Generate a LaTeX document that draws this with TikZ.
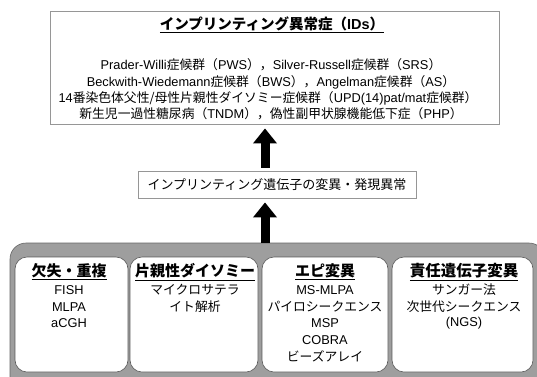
\documentclass[tikz,border=0pt]{standalone}
\usepackage{fontspec}
\setmainfont{Noto Sans CJK JP}
\newfontfamily\latf{Liberation Sans}
\newcommand\la[1]{{\latf #1}}
\usetikzlibrary{arrows.meta}
\definecolor{bggray}{RGB}{158,158,158}
\definecolor{edgegray}{RGB}{150,150,150}
\begin{document}
\begin{tikzpicture}[x=1pt,y=-1pt,
  txt/.style={inner sep=0pt, font=\fontsize{12.8}{15}\selectfont},
  head/.style={inner sep=0pt, font=\fontsize{15}{16}\selectfont\bfseries},
  plainbox/.style={draw=edgegray, line width=0.8pt, fill=white, inner sep=0pt},
  methodbox/.style={draw=gray!70!black, line width=0.6pt, fill=white, rounded corners=12pt, inner sep=0pt},
  bigarrow/.style={line width=9pt, -{Triangle[width=23pt,length=15pt]}, black}]
\useasboundingbox (0,0) rectangle (537,376);
% top box
\node[plainbox, minimum width=449pt, minimum height=113pt] (ids) at (274.5,67.5) {};
\node[head, font=\fontsize{14.5}{16}\selectfont\bfseries] (idsT) at (272,25) {\underline{インプリンティング異常症（\la{\bfseries IDs}）}};
\node[txt] (l1) at (271,65) {\la{Prader-Willi}症候群（\la{PWS}），\la{Silver-Russell}症候群（\la{SRS}）};
\node[txt] (l2) at (271,82) {\la{Beckwith-Wiedemann}症候群（\la{BWS}），\la{Angelman}症候群（\la{AS}）};
\node[txt] (l3) at (268,98) {\la{14}番染色体父性/母性片親性ダイソミー症候群（\la{UPD(14)pat/mat}症候群）};
\node[txt] (l4) at (271,114) {新生児一過性糖尿病（\la{TNDM}），偽性副甲状腺機能低下症（\la{PHP}）};
% middle box
\node[plainbox, minimum width=278pt, minimum height=27pt, font=\fontsize{13}{15}\selectfont] (gene) at (277,184.5) {インプリンティング遺伝子の変異・発現異常};
% bottom gray
\node[fill=bggray, draw=gray!80!black, line width=0.6pt, rounded corners=16pt, minimum width=535pt, minimum height=150pt, inner sep=0pt] (methods) at (277.5,318) {};
\node[methodbox, minimum width=113pt, minimum height=115pt] (b1) at (71.5,314.5) {};
\node[methodbox, minimum width=128pt, minimum height=115pt] (b2) at (194,314.5) {};
\node[methodbox, minimum width=126pt, minimum height=115pt] (b3) at (325,314.5) {};
\node[methodbox, minimum width=141pt, minimum height=115pt] (b4) at (462.5,314.5) {};
% box texts
\node[head] (h1) at (69,272) {\underline{欠失・重複}};
\node[txt] (t11) at (69,290) {\la{FISH}};
\node[txt] (t12) at (69,307) {\la{MLPA}};
\node[txt] (t13) at (69,323) {\la{aCGH}};
\node[head] (h2) at (195,272) {\underline{片親性ダイソミー}};
\node[txt] (t21) at (195,290) {マイクロサテラ};
\node[txt] (t22) at (195,307) {イト解析};
\node[head] (h3) at (325,272) {\underline{エピ変異}};
\node[txt] (t31) at (325,290) {\la{MS-MLPA}};
\node[txt] (t32) at (325,307) {パイロシークエンス};
\node[txt] (t33) at (325,323) {\la{MSP}};
\node[txt] (t34) at (325,340) {\la{COBRA}};
\node[txt] (t35) at (325,356) {ビーズアレイ};
\node[head, font=\fontsize{15.5}{16}\selectfont\bfseries] (h4) at (464,272) {\underline{責任遺伝子変異}};
\node[txt] (t41) at (464,290) {サンガー法};
\node[txt] (t42) at (464,307) {次世代シークエンス};
\node[txt] (t43) at (464,323) {\la{(NGS)}};
% arrows
\coordinate (ax) at (265,0);
\draw[bigarrow, shorten <=3pt, shorten >=4pt] (gene.north -| ax) -- (ids.south -| ax);
\draw[bigarrow, shorten >=4pt] (methods.north -| ax) -- (gene.south -| ax);
\end{tikzpicture}
\end{document}
